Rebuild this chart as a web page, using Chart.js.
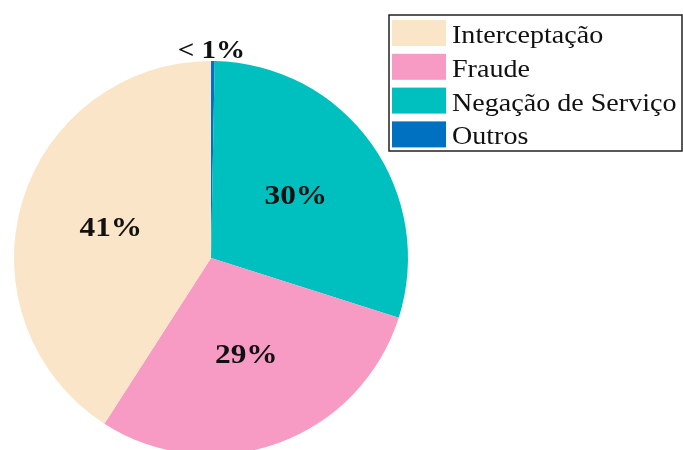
<!DOCTYPE html>
<html>
<head>
<meta charset="utf-8">
<script src="https://cdn.jsdelivr.net/npm/chart.js@4/dist/chart.umd.min.js"></script>
<style>
html,body{margin:0;padding:0;background:#fff;overflow:hidden;}
#wrap{position:relative;width:683px;height:470px;}
</style>
</head>
<body>
<div id="wrap"><canvas id="c" width="683" height="470"></canvas></div>
<script>
// Legend order
const categories = ['Interceptação', 'Fraude', 'Negação de Serviço', 'Outros'];
const values = [40.9, 29.2, 29.6, 0.3];
const colors = ['#FAE5C8', '#F79AC4', '#00BFBF', '#0070C0'];

function fmt(v){ return v < 1 ? '< 1%' : Math.round(v) + '%'; }

// Drawn clockwise from top in reverse legend order
const drawOrder = [3, 2, 1, 0];

function stretchedText(ctx, text, x, y, sx){
  ctx.save();
  ctx.translate(x, y);
  ctx.scale(sx, 1);
  ctx.fillText(text, 0, 0);
  ctx.restore();
}

const labelPlugin = {
  id: 'labels',
  afterDatasetsDraw(chart){
    const ctx = chart.ctx;
    const meta = chart.getDatasetMeta(0);
    ctx.save();
    ctx.fillStyle = '#111';
    ctx.textAlign = 'center';
    ctx.textBaseline = 'middle';
    meta.data.forEach((arc, i) => {
      const v = chart.data.datasets[0].data[i];
      const p = arc.getProps(['x','y','startAngle','endAngle','outerRadius'], true);
      const mid = (p.startAngle + p.endAngle) / 2;
      const r = v < 1 ? p.outerRadius + 10 : p.outerRadius * 0.53;
      const x = p.x + Math.cos(mid) * r;
      const y = p.y + Math.sin(mid) * r;
      ctx.font = (v < 1 ? 'bold 26px' : 'bold 28px') + ' "Liberation Serif", "Times New Roman", serif';
      stretchedText(ctx, fmt(v), v < 1 ? x - 1.5 : x, y, 1.12);
    });
    ctx.restore();
  },
  afterDraw(chart){
    const ctx = chart.ctx;
    ctx.save();
    // legend box
    ctx.strokeStyle = '#222';
    ctx.lineWidth = 1.5;
    ctx.fillStyle = '#fff';
    ctx.fillRect(389, 15, 293, 136);
    ctx.strokeRect(389, 15, 293, 136);
    ctx.font = '26px "Liberation Serif", "Times New Roman", serif';
    ctx.textAlign = 'left';
    ctx.textBaseline = 'alphabetic';
    categories.forEach((name, i) => {
      const top = 20 + i * 33.8;
      ctx.fillStyle = colors[i];
      ctx.fillRect(392, top, 54, 26);
      ctx.fillStyle = '#111';
      stretchedText(ctx, name, 452, top + 23, 1.08);
    });
    ctx.restore();
  }
};

new Chart(document.getElementById('c'), {
  type: 'pie',
  data: {
    labels: drawOrder.map(i => categories[i]),
    datasets: [{
      data: drawOrder.map(i => values[i]),
      backgroundColor: drawOrder.map(i => colors[i]),
      borderWidth: 0
    }]
  },
  options: {
    responsive: false,
    animation: false,
    layout: { padding: { left: 14, right: 275, top: 61, bottom: 15 } },
    plugins: { legend: { display: false }, tooltip: { enabled: false } }
  },
  plugins: [labelPlugin]
});
</script>
</body>
</html>
